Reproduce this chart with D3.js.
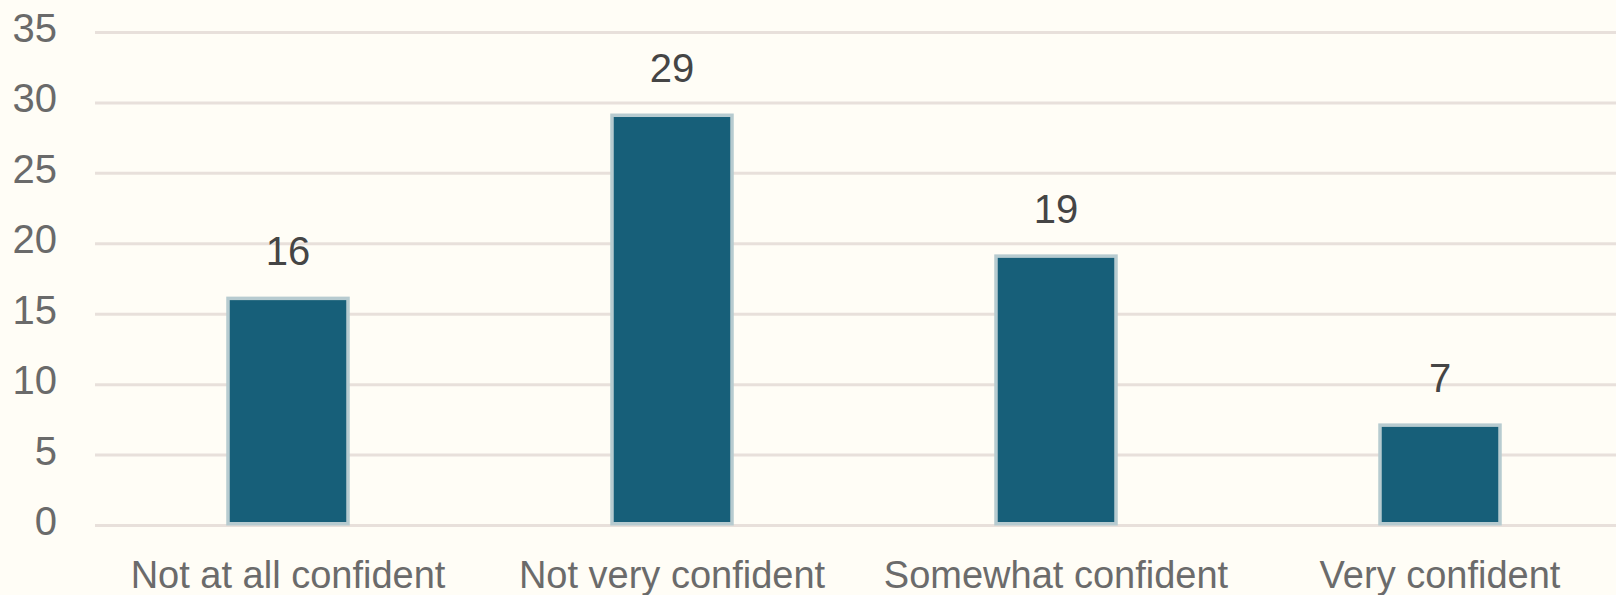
<!DOCTYPE html>
<html>
<head>
<meta charset="utf-8">
<script src="https://cdn.jsdelivr.net/npm/d3@7"></script>
<style>
html,body{margin:0;padding:0;background:#fffdf6;}
svg{display:block;}
text{font-family:"Liberation Sans",Arial,sans-serif;}
</style>
</head>
<body>
<svg id="chart" width="1616" height="595"></svg>
<script>
const categories = ["Not at all confident", "Not very confident", "Somewhat confident", "Very confident"];
const values = [16, 29, 19, 7];
const yTicks = [0, 5, 10, 15, 20, 25, 30, 35];

const W = 1616, H = 595;
const svg = d3.select("#chart");
svg.append("rect").attr("width", W).attr("height", H).attr("fill", "#fffdf6");

const y = d3.scaleLinear().domain([0, 35]).range([525.5, 32.5]);
const x = d3.scaleBand().domain(categories).range([96, 1632])
  .paddingInner(0.6875).paddingOuter(0.34375);

// gridlines
svg.append("g").selectAll("line").data(yTicks).join("line")
  .attr("x1", 95).attr("x2", W)
  .attr("y1", d => y(d)).attr("y2", d => y(d))
  .attr("stroke", "#e8e0db").attr("stroke-width", 3);

// y tick labels
const yAxis = d3.axisLeft(y).tickValues(yTicks).tickSize(0).tickPadding(0);
const gy = svg.append("g").attr("transform", "translate(57,0)").call(yAxis);
gy.select(".domain").remove();
gy.selectAll("text")
  .attr("font-size", 40).attr("fill", "#6a6a6a")
  .attr("dy", null).attr("y", 9)
  .attr("font-family", "'Liberation Sans', Arial, sans-serif");

// bars
svg.append("g").selectAll("rect").data(values).join("rect")
  .attr("x", (d, i) => x(categories[i]))
  .attr("y", d => y(d) - 1.75)
  .attr("width", x.bandwidth())
  .attr("height", d => y(0) - y(d))
  .attr("fill", "#175f79")
  .attr("stroke", "#b7cbd0")
  .attr("stroke-width", 3.5);

// value labels
svg.append("g").selectAll("text").data(values).join("text")
  .attr("x", (d, i) => x(categories[i]) + x.bandwidth() / 2)
  .attr("y", d => y(d) - 35)
  .attr("text-anchor", "middle")
  .attr("font-size", 40)
  .attr("fill", "#454545")
  .text(d => d);

// category labels
const xAxis = d3.axisBottom(x).tickSize(0).tickPadding(0);
const gx = svg.append("g").attr("transform", "translate(0,0)").call(xAxis);
gx.select(".domain").remove();
gx.selectAll("text")
  .attr("font-size", 38).attr("fill", "#6b6b6b")
  .attr("dy", null).attr("y", 588)
  .attr("font-family", "'Liberation Sans', Arial, sans-serif");
</script>
</body>
</html>
